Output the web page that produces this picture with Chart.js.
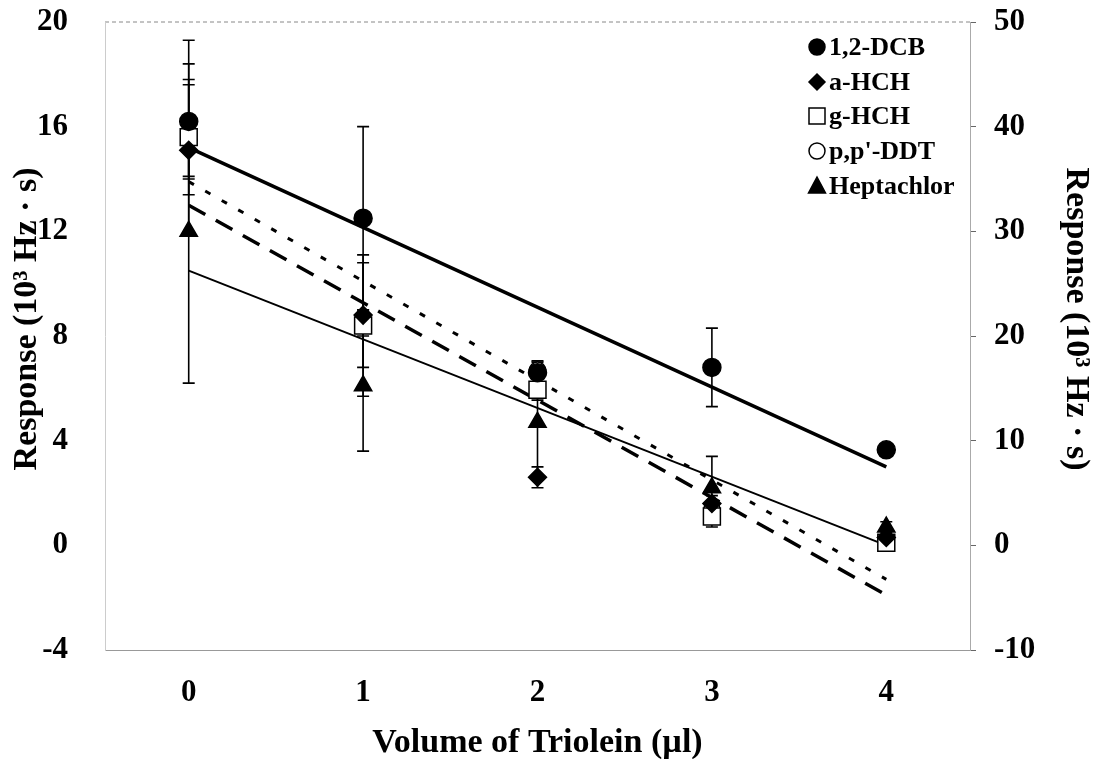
<!DOCTYPE html>
<html>
<head>
<meta charset="utf-8">
<script src="https://cdn.jsdelivr.net/npm/chart.js@4.4.0/dist/chart.umd.min.js"></script>
<style>
  body { margin: 0; background: #fff; }
  #wrap { width: 1096px; height: 759px; }
</style>
</head>
<body>
<div id="wrap"><canvas id="myChart" width="1096" height="759"></canvas></div>
<script>
// volume of triolein (ul)
const volumes = [0, 1, 2, 3, 4];

// responses (10^3 Hz s) and their error bars
const dcb = [16.2, 12.5, 6.6, 6.8, 3.65];
const dcbErr = [2.2, 3.5, 0.45, 1.5, 0.2];
const aHch = [15.1, 8.8, 2.6, 1.6, 0.3];
const aHchErr = [1.0, 2.0, 0.4, 0.3, 0.1];
const gHch = [15.6, 8.4, 5.95, 1.1, 0.1];
const gHchErr = [3.7, 2.7, 0.4, 0.4, 0.2];
const ddt = [15.5, 8.5, 6.7, 1.4, 0.2];
const ddtErr = [2.1, 0.5, 0.3, 0.3, 0.1];
const hepta = [12.0, 6.1, 4.7, 2.2, 0.7];
const heptaErr = [5.8, 2.5, 2.2, 1.2, 0.2];

// trend lines, read at both ends
const fitX = [0, 4];
const dcbFit = [15.2, 3.0];
const aHchFit = [13.0, -1.9];
const gHchFit = [13.9, -1.3];
const heptaFit = [10.5, 0.0];

const leftTicks = [-4, 0, 4, 8, 12, 16, 20];
const rightTicks = [-10, 0, 10, 20, 30, 40, 50];
const xTicks = [0, 1, 2, 3, 4];

const serif = 'Liberation Serif';
const yTitle = 'Response (10\u00b3 Hz \u00b7 s)';

function pts(xs, ys) {
  return xs.map((x, i) => ({ x: x, y: ys[i] }));
}

function markerSet(label, ys, errs, style, radius, fill) {
  return {
    label: label,
    data: pts(volumes, ys),
    errors: errs,
    pointStyle: style,
    pointRadius: radius,
    pointHoverRadius: radius,
    pointBackgroundColor: fill,
    pointBorderColor: '#000',
    pointBorderWidth: 1.5,
    showLine: false
  };
}

function fitSet(ys, width, dash) {
  return {
    label: '',
    data: pts(fitX, ys),
    showLine: true,
    borderColor: '#000',
    borderWidth: width,
    borderDash: dash,
    pointRadius: 0,
    fill: false
  };
}

// keep the plot box where the reference has it
function fixWidth(w) {
  return s => { s.width = w; s.paddingTop = 0; s.paddingBottom = 0; };
}

const errorBars = {
  id: 'errorBars',
  beforeDatasetsDraw(chart) {
    const ctx = chart.ctx;
    const xs = chart.scales.x, ys = chart.scales.y;
    ctx.save();
    ctx.strokeStyle = '#000';
    ctx.lineWidth = 1.6;
    chart.data.datasets.forEach(ds => {
      if (!ds.errors) return;
      ds.data.forEach((p, i) => {
        const e = ds.errors[i];
        const px = xs.getPixelForValue(p.x);
        const top = ys.getPixelForValue(p.y + e);
        const bot = ys.getPixelForValue(p.y - e);
        ctx.beginPath();
        ctx.moveTo(px, top); ctx.lineTo(px, bot);
        ctx.moveTo(px - 6, top); ctx.lineTo(px + 6, top);
        ctx.moveTo(px - 6, bot); ctx.lineTo(px + 6, bot);
        ctx.stroke();
      });
    });
    ctx.restore();
  }
};

const frame = {
  id: 'frame',
  beforeDraw(chart) {
    const { ctx, chartArea: a } = chart;
    ctx.save();
    ctx.strokeStyle = '#888';
    ctx.lineWidth = 1;
    ctx.setLineDash([4, 3]);
    ctx.beginPath();
    ctx.moveTo(a.left, a.top); ctx.lineTo(a.right, a.top);
    ctx.stroke();
    ctx.restore();
  }
};

const boxLegend = {
  id: 'boxLegend',
  afterDraw(chart) {
    const ctx = chart.ctx;
    const rows = [47, 82, 116, 151, 186];
    const mx = 817, tx = 829;
    ctx.save();
    ctx.font = 'bold 26px ' + serif;
    ctx.textBaseline = 'middle';
    ctx.strokeStyle = '#000';
    ctx.lineWidth = 1.5;
    const sets = chart.data.datasets.filter(d => d.errors);
    sets.forEach((ds, i) => {
      const y = rows[i];
      ctx.beginPath();
      if (ds.pointStyle === 'circle') {
        ctx.arc(mx, y, 8, 0, Math.PI * 2);
      } else if (ds.pointStyle === 'rectRot') {
        ctx.moveTo(mx, y - 8); ctx.lineTo(mx + 8, y); ctx.lineTo(mx, y + 8); ctx.lineTo(mx - 8, y); ctx.closePath();
      } else if (ds.pointStyle === 'rect') {
        ctx.rect(mx - 8, y - 8, 16, 16);
      } else {
        ctx.moveTo(mx, y - 9); ctx.lineTo(mx + 8.5, y + 7); ctx.lineTo(mx - 8.5, y + 7); ctx.closePath();
      }
      ctx.fillStyle = ds.pointBackgroundColor;
      ctx.fill();
      ctx.stroke();
      ctx.fillStyle = '#000';
      ctx.fillText(ds.label, tx, y + 1);
    });
    ctx.restore();
  }
};

const data = {
  datasets: [
    markerSet('1,2-DCB', dcb, dcbErr, 'circle', 9, '#000'),
    markerSet('a-HCH', aHch, aHchErr, 'rectRot', 9, '#000'),
    markerSet('g-HCH', gHch, gHchErr, 'rect', 12, '#fff'),
    markerSet("p,p'-DDT", ddt, ddtErr, 'circle', 8, '#fff'),
    markerSet('Heptachlor', hepta, heptaErr, 'triangle', 10, '#000'),
    fitSet(dcbFit, 3.5, []),
    fitSet(aHchFit, 3.5, [19, 12]),
    fitSet(gHchFit, 3, [6, 13]),
    fitSet(heptaFit, 2, [])
  ]
};

const tickFont = { family: serif, size: 31, weight: 'bold' };
const titleFont = { family: serif, size: 34, weight: 'bold' };

const config = {
  type: 'scatter',
  data: data,
  options: {
    responsive: false,
    animation: false,
    layout: { padding: { top: 22, left: 0, right: 0, bottom: 0 } },
    plugins: {
      legend: { display: false },
      tooltip: { enabled: false }
    },
    scales: {
      x: {
        type: 'linear',
        min: -0.48,
        max: 4.48,
        afterBuildTicks: s => { s.ticks = xTicks.map(v => ({ value: v })); },
        afterFit: s => { s.height = 109; s.paddingLeft = 0; s.paddingRight = 0; },
        grid: { display: false },
        border: { display: true, color: '#999', width: 1, dash: [4, 3] },
        ticks: { color: '#000', font: tickFont, padding: 16, maxRotation: 0 },
        title: { display: true, text: 'Volume of Triolein (\u00b5l)', color: '#000', font: titleFont, padding: { top: 0, bottom: -5 } }
      },
      y: {
        position: 'left',
        min: -4,
        max: 20,
        afterBuildTicks: s => { s.ticks = leftTicks.map(v => ({ value: v })); },
        afterFit: fixWidth(105),
        grid: { display: false },
        border: { display: true, color: '#ccc', width: 1, dash: [2, 4] },
        ticks: { color: '#000', font: tickFont, padding: 29 },
        title: { display: true, text: '    ' + yTitle, color: '#000', font: titleFont, padding: { top: 7, bottom: 0 } }
      },
      y1: {
        position: 'right',
        min: -10,
        max: 50,
        afterBuildTicks: s => { s.ticks = rightTicks.map(v => ({ value: v })); },
        afterFit: fixWidth(126),
        grid: { display: true, drawOnChartArea: false, drawTicks: true, tickLength: 6, color: '#666' },
        border: { display: true, color: '#aaa', width: 1, dash: [2, 4] },
        ticks: { color: '#000', font: tickFont, padding: 18 },
        title: { display: true, text: yTitle + '    ', color: '#000', font: titleFont, padding: { top: 0, bottom: 0 } }
      }
    }
  },
  plugins: [frame, errorBars, boxLegend]
};

const myChart = new Chart(document.getElementById('myChart'), config);
</script>
</body>
</html>
